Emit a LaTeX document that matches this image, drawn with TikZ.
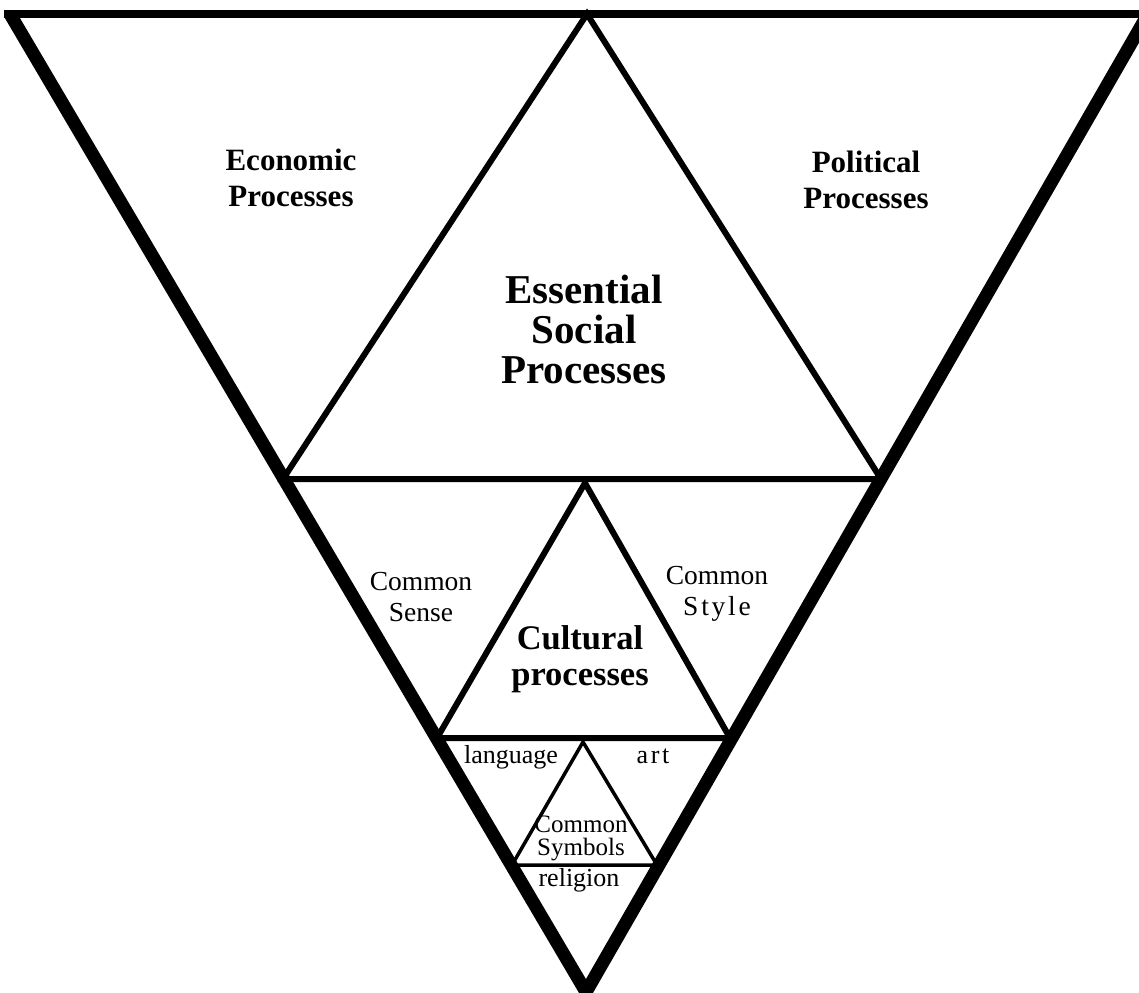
\documentclass[tikz,border=0pt]{standalone}
\usepackage{fontspec}
\setmainfont{Liberation Serif}
\begin{document}
\begin{tikzpicture}[x=1pt,y=-1pt,
  outer/.style={line width=13pt,line join=miter},
  rim/.style={line width=8pt},
  tri/.style={line width=6pt,line join=miter},
  smalltri/.style={line width=3.5pt,line join=miter},
  lbl/.style={inner sep=0pt,align=center},
  bigfont/.style={font=\fontsize{41}{40}\selectfont\bfseries},
  headfont/.style={font=\fontsize{31}{36}\selectfont\bfseries},
  midfont/.style={font=\fontsize{27.5}{31}\selectfont},
  smallfont/.style={font=\fontsize{26}{23}\selectfont}]
\useasboundingbox (0,0) rectangle (1139,992);
\clip (0,0) rectangle (1139,992);
\fill[white] (0,0) rectangle (1139,992);

% outer inverted triangle
\coordinate (TL) at (10,14);
\coordinate (TR) at (1148,14);
\coordinate (B) at (586,992);
\draw[rim] (4,14) -- (1160,14);
\draw[outer] (TL) -- (B) -- (TR);

% upper tier: essential social processes
\coordinate (E1) at (587,14);
\coordinate (E2) at (283,479);
\coordinate (E3) at (881,479);
\draw[tri] (E1) -- (E2) -- (E3) -- cycle;

% middle tier: cultural processes
\coordinate (C1) at (585,483);
\coordinate (C2) at (437,738);
\coordinate (C3) at (730,738);
\draw[tri] (C1) -- (C2) -- (C3) -- cycle;

% lower tier: common symbols
\coordinate (S1) at (583,742);
\coordinate (S2) at (512,865);
\coordinate (S3) at (657,865);
\draw[smalltri] (S1) -- (S2) -- (S3) -- cycle;

% labels
\node[lbl,headfont] (eco) at (291,178) {Economic\\Processes};
\node[lbl,headfont] (pol) at (866,180) {Political\\Processes};
\node[lbl,bigfont] (ess) at (584,329) {Essential\\Social\\Processes};
\node[lbl,midfont] (sense) at (421,597) {Common\\Sense};
\node[lbl,midfont] (style) at (717,594) {Common\\{\addfontfeature{LetterSpace=10}Style}};
\node[lbl,font=\fontsize{34.5}{36}\selectfont\bfseries] (cult) at (580,659) {Cultural\\processes};
\node[lbl,smallfont,anchor=base] (lang) at (511,763) {language};
\node[lbl,smallfont,anchor=base] (art) at (653,763) {\addfontfeature{LetterSpace=10}art};
\node[lbl,font=\fontsize{25}{23}\selectfont] (sym) at (581,838) {Common\\Symbols};
\node[lbl,smallfont,anchor=base] (rel) at (579,886) {religion};
\end{tikzpicture}
\end{document}
